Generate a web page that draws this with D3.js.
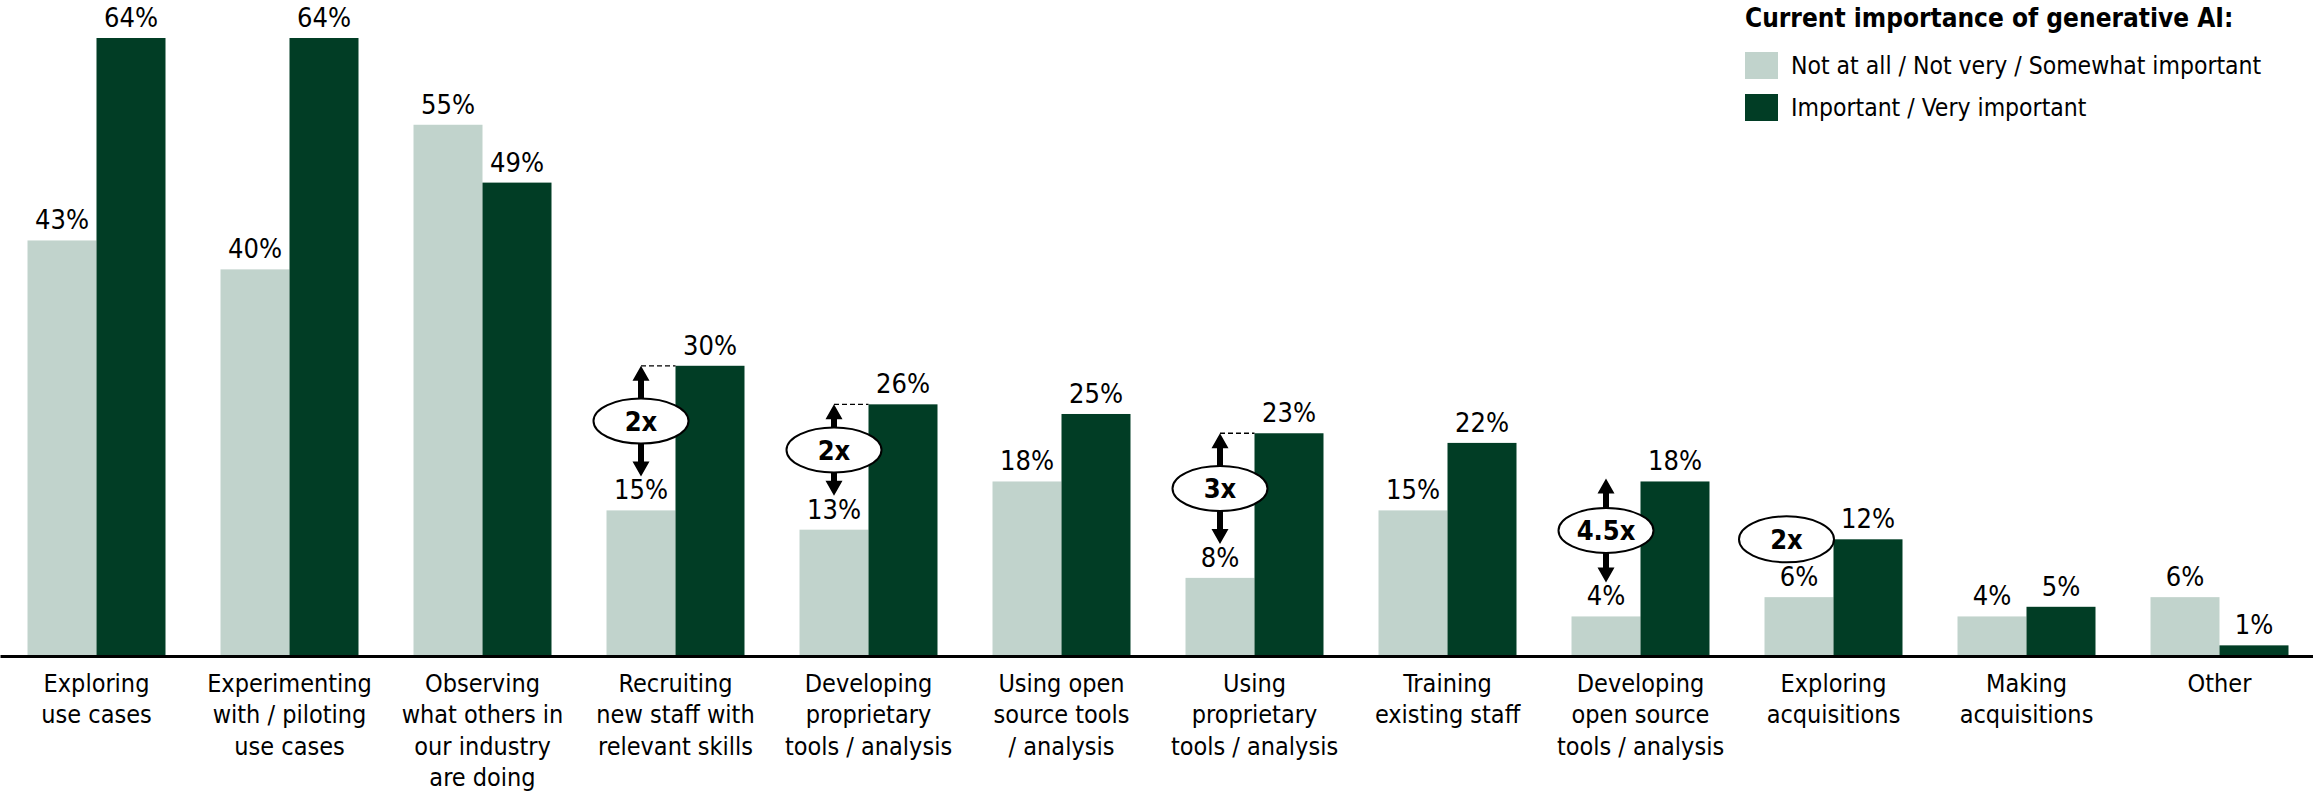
<!DOCTYPE html>
<html><head><meta charset="utf-8">
<script src="https://cdn.jsdelivr.net/npm/d3@7"></script>
<style>
html,body{margin:0;padding:0;background:#fff;}
svg{display:block;}
text{font-family:"DejaVu Sans Condensed","DejaVu Sans",sans-serif;fill:#000;}
</style></head>
<body>
<script>
const categories = [
  "Exploring\nuse cases",
  "Experimenting\nwith / piloting\nuse cases",
  "Observing\nwhat others in\nour industry\nare doing",
  "Recruiting\nnew staff with\nrelevant skills",
  "Developing\nproprietary\ntools / analysis",
  "Using open\nsource tools\n/ analysis",
  "Using\nproprietary\ntools / analysis",
  "Training\nexisting staff",
  "Developing\nopen source\ntools / analysis",
  "Exploring\nacquisitions",
  "Making\nacquisitions",
  "Other"
];
const seriesNames = ["Not at all / Not very / Somewhat important", "Important / Very important"];
const lowImportance = [43, 40, 55, 15, 13, 18, 8, 15, 4, 6, 4, 6];
const highImportance = [64, 64, 49, 30, 26, 25, 23, 22, 18, 12, 5, 1];
const legendTitle = "Current importance of generative AI:";
const multipliers = [
  {cat: 3, label: "2x", arrows: true, dashed: true},
  {cat: 4, label: "2x", arrows: true, dashed: true},
  {cat: 6, label: "3x", arrows: true, dashed: true},
  {cat: 8, label: "4.5x", arrows: true, dashed: false},
  {cat: 9, label: "2x", arrows: false, dashed: false}
];

const W = 2313, H = 793;
const colors = ["#c1d3cc", "#013d25"];
const svg = d3.select("body").append("svg").attr("width", W).attr("height", H);

const y = d3.scaleLinear().domain([0, 64]).range([655, 38]);
const x0 = d3.scaleBand().domain(categories).range([0, 2316]).paddingInner(0.285).paddingOuter(0.1425);
const x1 = d3.scaleBand().domain([0, 1]).range([0, x0.bandwidth()]);

const rows = categories.map((c, i) => ({cat: c, vals: [lowImportance[i], highImportance[i]]}));

const g = svg.selectAll("g.grp").data(rows).join("g").attr("class", "grp")
  .attr("transform", d => `translate(${x0(d.cat)},0)`);
g.selectAll("rect").data(d => d.vals.map((v, k) => ({v, k}))).join("rect")
  .attr("x", d => x1(d.k)).attr("width", x1.bandwidth())
  .attr("y", d => y(d.v)).attr("height", d => y(0) - y(d.v))
  .attr("fill", d => colors[d.k]);
g.selectAll("text.val").data(d => d.vals.map((v, k) => ({v, k}))).join("text").attr("class", "val")
  .attr("x", d => x1(d.k) + x1.bandwidth() / 2).attr("y", d => y(d.v) - 11)
  .attr("text-anchor", "middle").style("font-size", "27px").text(d => d.v + "%");

// axis
const axis = svg.append("g").attr("transform", `translate(0,${y(0) + 1})`)
  .call(d3.axisBottom(x0).tickSize(0).tickSizeOuter(0));
axis.select(".domain").attr("stroke", "#000").attr("stroke-width", 3);
axis.selectAll(".tick text").each(function(d) {
  const t = d3.select(this);
  t.text(null).attr("y", 0).attr("dy", null)
    .style("font-size", "25px").style("font-family", "DejaVu Sans Condensed").attr("fill", "#000");
  d.split("\n").forEach((line, i) => {
    t.append("tspan").attr("x", 0).attr("y", 35.5 + i * 31.5).text(line);
  });
});

// multiplier annotations
multipliers.forEach(m => {
  const c = categories[m.cat];
  const xl = x0(c) + x1(0) + x1.bandwidth() / 2;
  const xd = x0(c) + x1(1);
  const topY = y(highImportance[m.cat]);
  const lowTop = y(lowImportance[m.cat]);
  const ag = svg.append("g");
  if (m.arrows) {
    const top = m.dashed ? topY : topY - 3;
    const bot = lowTop - 34;
    const mid = (top + bot) / 2;
    if (m.dashed) {
      ag.append("line").attr("x1", xl).attr("x2", xd).attr("y1", top).attr("y2", top)
        .attr("stroke", "#000").attr("stroke-width", 1.3).attr("stroke-dasharray", "5,3");
    }
    const hw = 8.5, hh = 15, sw = 3;
    ag.append("path").attr("d",
      `M${xl},${top} L${xl + hw},${top + hh} L${xl + sw},${top + hh} L${xl + sw},${mid} L${xl - sw},${mid} L${xl - sw},${top + hh} L${xl - hw},${top + hh} Z`)
      .attr("fill", "#000");
    ag.append("path").attr("d",
      `M${xl},${bot} L${xl + hw},${bot - hh} L${xl + sw},${bot - hh} L${xl + sw},${mid} L${xl - sw},${mid} L${xl - sw},${bot - hh} L${xl - hw},${bot - hh} Z`)
      .attr("fill", "#000");
    ag.append("ellipse").attr("cx", xl).attr("cy", mid).attr("rx", 47.5).attr("ry", 22.5)
      .attr("fill", "#fff").attr("stroke", "#000").attr("stroke-width", 2);
    ag.append("text").attr("x", xl).attr("y", mid + 9.5).attr("text-anchor", "middle")
      .style("font-size", "27px").style("font-weight", "bold").style("font-family", "DejaVu Sans Condensed")
      .text(m.label);
  } else {
    const cx = xd - 47;
    ag.append("ellipse").attr("cx", cx).attr("cy", topY).attr("rx", 47.5).attr("ry", 23)
      .attr("fill", "#fff").attr("stroke", "#000").attr("stroke-width", 2);
    ag.append("text").attr("x", cx).attr("y", topY + 9.5).attr("text-anchor", "middle")
      .style("font-size", "27px").style("font-weight", "bold").style("font-family", "DejaVu Sans Condensed")
      .text(m.label);
  }
});

// legend
const lg = svg.append("g").attr("transform", "translate(1745,0)");
lg.append("text").attr("x", 0).attr("y", 27).style("font-size", "26px").style("font-weight", "bold")
  .text(legendTitle);
seriesNames.forEach((s, i) => {
  lg.append("rect").attr("x", 0).attr("y", 52 + i * 42).attr("width", 33).attr("height", 27).attr("fill", colors[i]);
  lg.append("text").attr("x", 46).attr("y", 74 + i * 42).style("font-size", "24.5px").text(s);
});
</script>
</body></html>
